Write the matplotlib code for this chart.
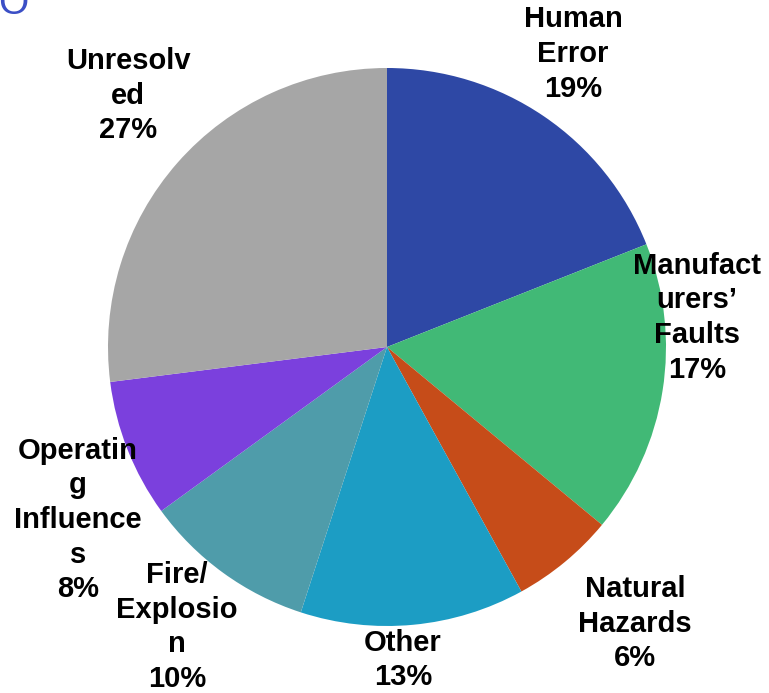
import matplotlib
matplotlib.use("Agg")
from matplotlib import pyplot as plt

# slice data (clockwise from 12 o'clock)
categories = ["Human\nError", "Manufact\nurers’\nFaults", "Natural\nHazards", "Other",
              "Fire/\nExplosio\nn", "Operatin\ng\nInfluence\ns", "Unresolv\ned"]
shares = [19, 17, 6, 13, 10, 8, 27]
colors = ["#2E48A5", "#41B976", "#C64C19", "#1C9DC4", "#4F9CAA", "#7B40DD", "#A6A6A6"]

# label centres in pie units (radius = 1)
label_xy = [(0.667, 1.050), (1.111, 0.105), (0.889, -0.992), (0.057, -1.122),
            (-0.753, -1.004), (-1.108, -0.620), (-0.928, 0.900)]

W, H = 769, 693
cx, cy, R = 387, 347, 279

plt.rcParams['font.family'] = ['Liberation Sans', 'DejaVu Sans']

fig = plt.figure(figsize=(W / 100, H / 100), dpi=100)
ax = fig.add_axes([0, 0, 1, 1])

wedges, _ = ax.pie(shares, colors=colors, startangle=90, counterclock=False,
                   radius=1, wedgeprops=dict(linewidth=0))

for name, val, (x, y) in zip(categories, shares, label_xy):
    ax.text(x, y, f"{name}\n{val}%", ha='center', va='center', fontsize=21,
            fontweight='bold', color='black', linespacing=1.3)

ax.set_xlim(-cx / R, (W - cx) / R)
ax.set_ylim(-(H - cy) / R, cy / R)
ax.set_aspect('equal', adjustable='datalim')
ax.axis('off')

# clipped title glyph in the top-left corner
fig.text(-2 / W, 1 - 14 / H, "O", ha='left', va='baseline', fontsize=28, color='#3B4FC6')

fig.savefig("out.png", dpi=100)
plt.close()
